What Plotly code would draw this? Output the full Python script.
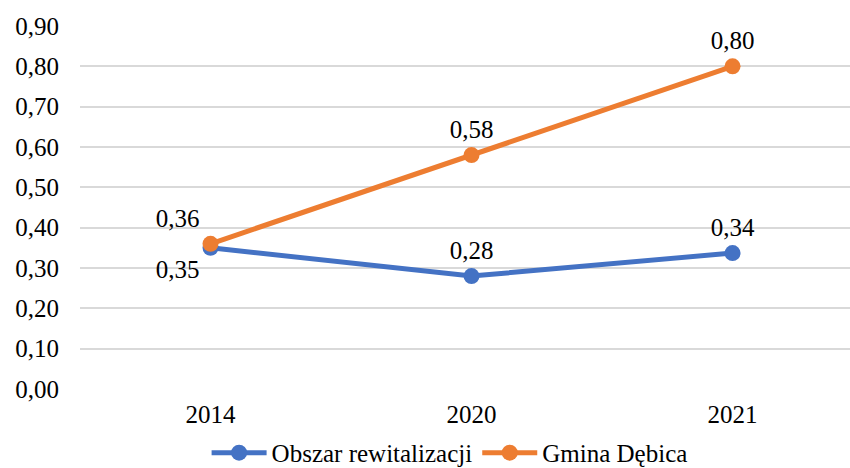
import plotly.graph_objects as go

years = ["2014", "2020", "2021"]
obszar = [0.35, 0.28, 0.337]
gmina = [0.36, 0.58, 0.80]
obszar_labels = ["0,35", "0,28", "0,34"]
gmina_labels = ["0,36", "0,58", "0,80"]
y_ticks = [0.0, 0.1, 0.2, 0.3, 0.4, 0.5, 0.6, 0.7, 0.8, 0.9]
y_tick_labels = ["0,00", "0,10", "0,20", "0,30", "0,40", "0,50", "0,60", "0,70", "0,80", "0,90"]

BLUE = "#4472C4"
ORANGE = "#ED7D31"
FONT = "Liberation Serif"
FS = 25

fig = go.Figure()
fig.add_trace(go.Scatter(x=years, y=obszar, mode="lines+markers+text", name="Obszar rewitalizacji",
                         text=obszar_labels,
                         textposition=["bottom left", "top center", "top center"],
                         textfont=dict(family=FONT, size=FS, color="black"),
                         line=dict(color=BLUE, width=5), marker=dict(color=BLUE, size=16)))
fig.add_trace(go.Scatter(x=years, y=gmina, mode="lines+markers+text", name="Gmina Dębica",
                         text=gmina_labels,
                         textposition=["top left", "top center", "top center"],
                         textfont=dict(family=FONT, size=FS, color="black"),
                         line=dict(color=ORANGE, width=5), marker=dict(color=ORANGE, size=16)))

fig.update_layout(
    width=850, height=468,
    margin=dict(l=80, r=0, t=26, b=79, autoexpand=False),
    paper_bgcolor="white", plot_bgcolor="white",
    font=dict(family=FONT, size=FS, color="black"),
    showlegend=True,
    legend=dict(orientation="h", x=0.48, xanchor="center", y=-0.176, yanchor="middle",
                itemwidth=55,
                font=dict(family=FONT, size=FS, color="black")),
    xaxis=dict(type="category", range=[-0.5, 2.45], showgrid=False, zeroline=False,
               showline=False, ticks="", ticklabelstandoff=8,
               tickfont=dict(family=FONT, size=FS, color="black")),
    yaxis=dict(range=[0, 0.9], tickvals=y_ticks, ticktext=y_tick_labels,
               showgrid=True, gridcolor="#D9D9D9", gridwidth=1.5, zeroline=False,
               showline=False, ticks="", ticklabelstandoff=20,
               tickfont=dict(family=FONT, size=FS, color="black")),
)

fig.write_html("out.html",
               post_script="document.body.style.margin='0';document.body.style.overflow='hidden';",
               config={"displayModeBar": False})
